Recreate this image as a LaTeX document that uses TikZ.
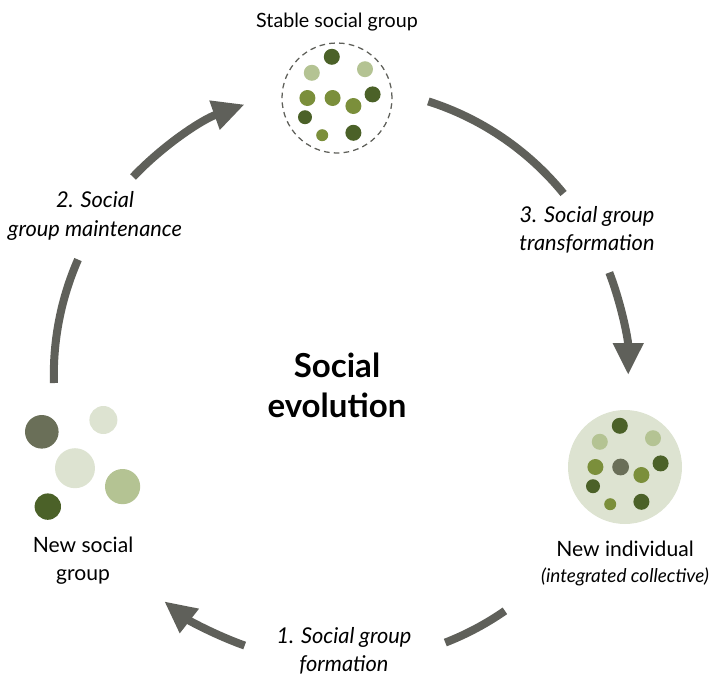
\documentclass[tikz,border=0pt]{standalone}
\usepackage{fontspec}
\setmainfont{Lato}
\usetikzlibrary{positioning,arrows.meta}

\definecolor{arrowgrey}{HTML}{5F605A}
\definecolor{darkgreen}{HTML}{4B6128}
\definecolor{olive}{HTML}{7B8F3B}
\definecolor{sage}{HTML}{B4C393}
\definecolor{mossgrey}{HTML}{6A6F58}
\definecolor{pale}{HTML}{DDE3D1}

\begin{document}
\begin{tikzpicture}[
    flow/.style={draw=arrowgrey, line width=0.2cm},
    flowarrow/.style={flow, -{Triangle[length=0.8cm, width=0.72cm]}},
    stablebox/.style={circle, draw=arrowgrey, line width=0.9pt, dash pattern=on 4pt off 3pt, minimum size=2.75cm, inner sep=0pt},
    cellbox/.style={circle, fill=pale, minimum size=2.85cm, inner sep=0pt},
    grouplabel/.style={font=\fontsize{15}{20}\selectfont, align=center},
    steplabel/.style={font=\fontsize{15.5}{20}\selectfont\itshape, align=center},
    titlelabel/.style={font=\fontsize{23.5}{28.5}\selectfont\bfseries, align=center}
]
\useasboundingbox (-8.525,-7.675) rectangle (9.55,9.375);

\def\R{7.18}

% Stable social group
\node[stablebox] (stable) at (-0.1,6.925) {};
\node[grouplabel, font=\fontsize{14}{18}\selectfont, above=0.15cm of stable] (stabletxt) {Stable social group};
\begin{scope}[shift={(stable.center)}]
    \foreach \x/\y/\r/\c in {-0.13/1.03/0.2/darkgreen, -0.63/0.63/0.2/sage, 0.7/0.72/0.2/sage,
        -0.74/0/0.2/olive, -0.11/0/0.2/olive, 0.41/-0.2/0.2/olive, 0.89/0.09/0.2/darkgreen,
        -0.8/-0.48/0.175/darkgreen, -0.37/-0.93/0.15/olive, 0.41/-0.87/0.2/darkgreen} {
        \fill[\c] (\x,\y) circle (\r);
    }
\end{scope}

% New individual
\node[cellbox] (indiv) at (7.1,-2.3) {};
\node[grouplabel, below=0.3cm of indiv] (indivtxt) {New individual};
\node[steplabel, font=\fontsize{13.5}{16}\selectfont\itshape, below=0.03cm of indivtxt] (indivsub) {(integrated collective)};
\begin{scope}[shift={(indiv.center)}]
    \foreach \x/\y/\r/\c in {-0.13/1.03/0.2/darkgreen, -0.63/0.63/0.2/sage, 0.7/0.72/0.2/sage,
        -0.74/0/0.2/olive, -0.11/0/0.21/mossgrey, 0.41/-0.2/0.2/olive, 0.89/0.09/0.2/darkgreen,
        -0.8/-0.48/0.175/darkgreen, -0.37/-0.93/0.15/olive, 0.41/-0.87/0.2/darkgreen} {
        \fill[\c] (\x,\y) circle (\r);
    }
\end{scope}

% New social group
\fill[mossgrey] (-7.48,-1.42) circle (0.42);
\fill[pale] (-5.94,-1.125) circle (0.35);
\fill[pale] (-6.65,-2.33) circle (0.5);
\fill[sage] (-5.46,-2.79) circle (0.44);
\fill[darkgreen] (-7.33,-3.29) circle (0.33);
\node[grouplabel] (newgroup) at (-6.45,-4.65) {New social\\group};

% centre
\node[titlelabel] (evo) at (-0.1,-0.25) {Social\\evolution};

% step labels
\node[steplabel] (step1) at (0.075,-6.9) {1. Social group\\formation};
\node[steplabel] (step2) at (-6.15,3.975) {2. Social\\group maintenance};
\node[steplabel] (step3) at (6.15,3.625) {3. Social group\\transformation};

% arc ends
\coordinate (m1) at (181.6:\R);
\coordinate (m2) at (136.4:\R);
\coordinate (t1) at (72.3:\R);
\coordinate (t2) at (20.9:\R);
\coordinate (f1) at (-55.2:\R);
\coordinate (f2) at (-109.6:\R);

\draw[flow] (m1) arc[start angle=181.6, end angle=156.3, radius=\R];
\draw[flowarrow] (m2) arc[start angle=136.4, end angle=109.6, radius=\R];
\draw[flow] (t1) arc[start angle=72.3, end angle=39.2, radius=\R];
\draw[flowarrow] (t2) arc[start angle=20.9, end angle=0, radius=\R];
\draw[flow] (f1) arc[start angle=-55.2, end angle=-68.7, radius=\R];
\draw[flowarrow] (f2) arc[start angle=-109.6, end angle=-128, radius=\R];

\end{tikzpicture}
\end{document}
